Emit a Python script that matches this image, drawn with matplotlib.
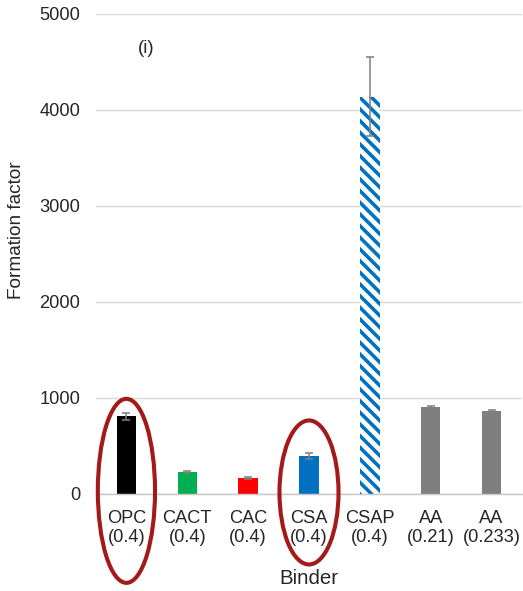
import matplotlib
matplotlib.use("Agg")
import matplotlib.pyplot as plt
from matplotlib.patches import Ellipse

# Formation factor by binder (w/b ratio in parentheses)
binders = ["OPC\n(0.4)", "CACT\n(0.4)", "CAC\n(0.4)", "CSA\n(0.4)",
           "CSAP\n(0.4)", "AA\n(0.21)", "AA\n(0.233)"]
values = [810, 228, 166, 395, 4140, 903, 862]
errors = [35, 8, 8, 33, 410, 10, 10]
colors = ["#000000", "#00B050", "#FF0000", "#0070C0", "#0070C0", "#7F7F7F", "#7F7F7F"]
hatched = [False, False, False, False, True, False, False]
yticks = [0, 1000, 2000, 3000, 4000, 5000]

# highlighted binders: (index, centre value, width in categories, height in value units)
highlights = [(0, 33, 0.94, 1917), (3, 16, 0.97, 1500)]

DPI = 140
plt.rcParams["font.family"] = ["Liberation Sans", "DejaVu Sans"]
plt.rcParams["hatch.linewidth"] = 2.4

fig = plt.figure(figsize=(523 / DPI, 591 / DPI), dpi=DPI)
ax = fig.add_axes([96 / 523, 1 - 494 / 591, 426 / 523, 480 / 591])

x = list(range(len(binders)))
for i, (v, c, h) in enumerate(zip(values, colors, hatched)):
    if h:
        ax.bar(i, v, width=0.32, color=c, edgecolor="white", hatch="\\\\\\\\",
               linewidth=0, zorder=2)
    else:
        ax.bar(i, v, width=0.32, color=c, linewidth=0, zorder=2)

ax.errorbar(x, values, yerr=errors, fmt="none", ecolor="#7F7F7F",
            elinewidth=0.8, capsize=1.9, capthick=0.8, zorder=3)

for idx, cy, w, hgt in highlights:
    ax.add_patch(Ellipse((idx, cy), w, hgt, fill=False, edgecolor="#A31A1A",
                         linewidth=2.1, clip_on=False, zorder=4))

ax.set_xlim(-0.5, len(binders) - 0.5)
ax.set_ylim(0, 5000)
ax.set_yticks(yticks)
ax.set_xticks(x)
ax.set_xticklabels(binders)
ax.grid(axis="y", color="#D9D9D9", linewidth=0.75, zorder=0)
ax.set_axisbelow(True)
for s in ("top", "right", "left"):
    ax.spines[s].set_visible(False)
ax.spines["bottom"].set_color("#C8C8C8")
ax.spines["bottom"].set_linewidth(0.75)
ax.tick_params(axis="y", length=0, pad=8, labelsize=9.4, labelcolor="#262626")
ax.tick_params(axis="x", length=0, pad=8, labelsize=9.4, labelcolor="#262626")

ax.text(0.33, 4636, "(i)", fontsize=9.5, color="#262626", ha="center", va="center")
fig.text(17 / 523, 1 - 230 / 591, "Formation factor", rotation=90,
         ha="center", va="center", fontsize=9.8, color="#262626")
fig.text(309 / 523, 1 - 578 / 591, "Binder", ha="center", va="center",
         fontsize=10.5, color="#262626")

fig.savefig("out.png", dpi=DPI)
